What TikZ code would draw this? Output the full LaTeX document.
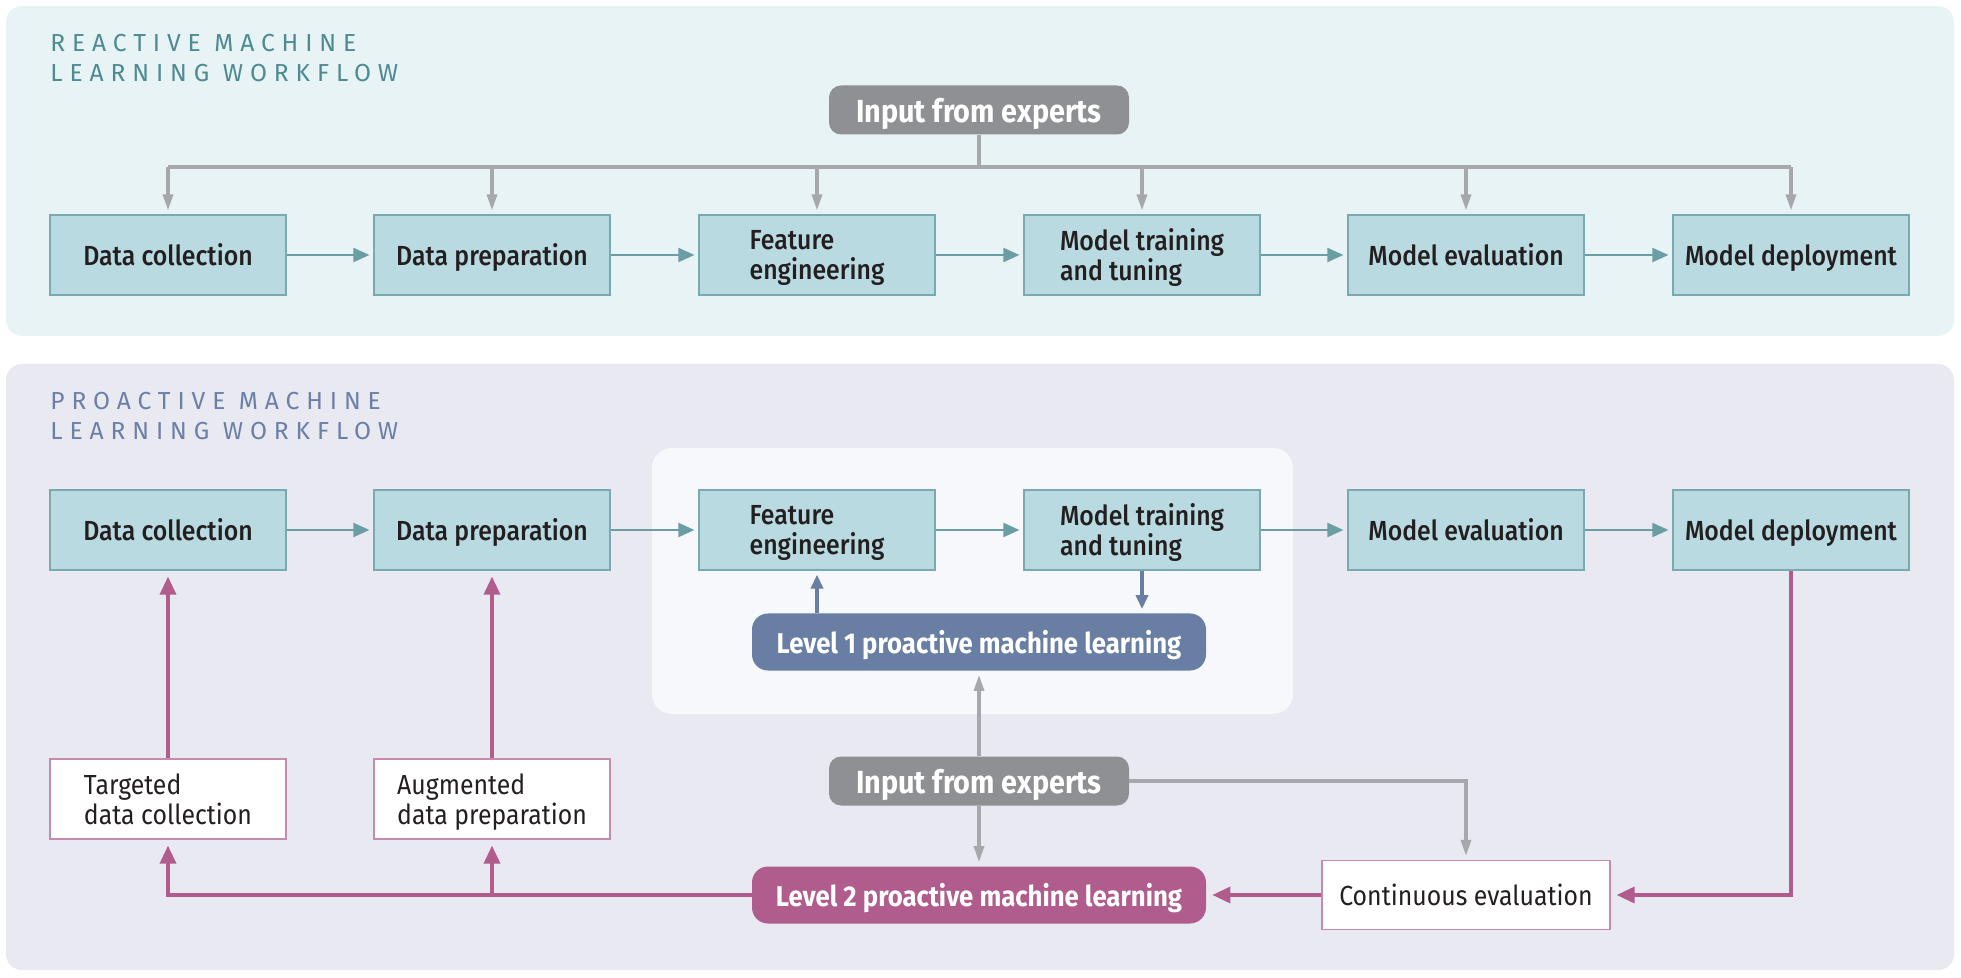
\documentclass[tikz,border=0pt]{standalone}
\usepackage{fontspec}
\setmainfont{Fira Sans}[FakeStretch=0.9]
\newfontfamily\medfont{Fira Sans Medium}[FakeStretch=0.9]
\newfontfamily\titlefont{Fira Sans}[LetterSpace=28]
\usetikzlibrary{arrows.meta}
\definecolor{reactbg}{HTML}{E7F3F4}
\definecolor{proactbg}{HTML}{E9E9F2}
\definecolor{innerbg}{HTML}{F7F8FB}
\definecolor{boxfill}{HTML}{B8DAE0}
\definecolor{boxline}{HTML}{7AA9B0}
\definecolor{tealarrow}{HTML}{6B9DA4}
\definecolor{grayline}{HTML}{A6A8AB}
\definecolor{grayfill}{HTML}{8E9093}
\definecolor{levelone}{HTML}{687EA3}
\definecolor{pinkline}{HTML}{B05C8C}
\definecolor{pinkedge}{HTML}{C58BAE}
\definecolor{reacttitle}{HTML}{4E8A92}
\definecolor{proacttitle}{HTML}{6B80A6}
\definecolor{textdark}{HTML}{231F20}

\begin{document}
\begin{tikzpicture}[x=0.5pt,y=-0.5pt]
  \tikzset{
    flowbox/.style={draw=boxline, fill=boxfill, line width=0.6pt, text=textdark,
      minimum width=118pt, minimum height=40pt, align=left, text depth=0pt,
      font=\medfont\fontsize{13.8}{15}\selectfont},
    whitebox/.style={flowbox, draw=pinkedge, fill=white,
      font=\fontsize{13.8}{15}\selectfont},
    expertbox/.style={fill=grayfill, rounded corners=6pt, text=white,
      minimum width=150pt, minimum height=24.5pt, text depth=0pt,
      font=\bfseries\fontsize{16}{18}\selectfont},
    levelbox/.style={rounded corners=8pt, text=white,
      minimum width=227pt, minimum height=28.5pt, text depth=0pt,
      font=\bfseries\fontsize{14.3}{16}\selectfont},
    paneltitle/.style={anchor=north west, align=left, inner sep=0pt,
      font=\titlefont\fontsize{12.3}{15}\selectfont},
    flowarrow/.style={draw=tealarrow, line width=1pt,
      -{Triangle[length=8pt,width=7pt]}, shorten >=2pt},
    grayarrow/.style={draw=grayline, line width=1.6pt,
      -{Triangle[length=8pt,width=5pt]}, shorten >=2pt},
    bluearrow/.style={draw=levelone, line width=1.7pt,
      -{Triangle[length=7pt,width=6pt]}, shorten >=2pt},
    pinkarrow/.style={draw=pinkline, line width=1.7pt,
      -{Triangle[length=9pt,width=8pt]}, shorten >=3pt}
  }
  \useasboundingbox (0,0) rectangle (1961,978);

  % panels
  \fill[reactbg, rounded corners=8pt] (6,6) rectangle (1954,336);
  \fill[proactbg, rounded corners=8pt] (6,364) rectangle (1954,970);
  \fill[innerbg, rounded corners=10pt] (652,448) rectangle (1293,714);
  \node[paneltitle, text=reacttitle] (t1) at (50,34) {REACTIVE MACHINE\\LEARNING WORKFLOW};
  \node[paneltitle, text=proacttitle] (t2) at (50,392) {PROACTIVE MACHINE\\LEARNING WORKFLOW};

  % reactive workflow
  \node[expertbox] (inp1) at (979,110) {Input from experts};
  \node[flowbox] (dc1) at (168,255) {Data collection};
  \node[flowbox] (dp1) at (492,255) {Data preparation};
  \node[flowbox] (fe1) at (817,255) {Feature\\engineering};
  \node[flowbox] (mt1) at (1142,255) {Model training\\and tuning};
  \node[flowbox] (me1) at (1466,255) {Model evaluation};
  \node[flowbox] (md1) at (1791,255) {Model deployment};
  \coordinate (bus) at (0,167);
  \draw[grayline, line width=1.6pt] (inp1.south) -- (inp1.south |- bus);
  \draw[grayline, line width=1.6pt] (dc1.north |- bus) -- (md1.north |- bus);
  \foreach \n in {dc1,dp1,fe1,mt1,me1,md1}
    \draw[grayarrow] (\n.north |- bus) -- (\n.north);
  \foreach \a/\b in {dc1/dp1,dp1/fe1,fe1/mt1,mt1/me1,me1/md1}
    \draw[flowarrow] (\a) -- (\b);

  % proactive workflow
  \node[flowbox] (dc2) at (168,530) {Data collection};
  \node[flowbox] (dp2) at (492,530) {Data preparation};
  \node[flowbox] (fe2) at (817,530) {Feature\\engineering};
  \node[flowbox] (mt2) at (1142,530) {Model training\\and tuning};
  \node[flowbox] (me2) at (1466,530) {Model evaluation};
  \node[flowbox] (md2) at (1791,530) {Model deployment};
  \foreach \a/\b in {dc2/dp2,dp2/fe2,fe2/mt2,mt2/me2,me2/md2}
    \draw[flowarrow] (\a) -- (\b);

  \node[levelbox, fill=levelone] (lv1) at (979,642) {Level 1 proactive machine learning};
  \node[expertbox] (inp2) at (979,781) {Input from experts};
  \node[levelbox, fill=pinkline] (lv2) at (979,895) {Level 2 proactive machine learning};
  \node[whitebox] (tdc) at (168,799) {Targeted\\data collection};
  \node[whitebox] (adp) at (492,799) {Augmented\\data preparation};
  \node[whitebox, minimum width=144pt, minimum height=34.5pt] (ce) at (1466,895) {Continuous evaluation};

  \draw[bluearrow] (lv1.north -| fe2.south) -- (fe2.south);
  \draw[bluearrow] (mt2.south) -- (mt2.south |- lv1.north);

  \draw[grayarrow] (inp2.north) -- (lv1.south);
  \draw[grayarrow] (inp2.south) -- (lv2.north);
  \draw[grayarrow] (inp2.east) -| (ce.north);

  \draw[pinkarrow] (md2.south) |- (ce.east);
  \draw[pinkarrow] (ce.west) -- (lv2.east);
  \draw[pinkarrow] (lv2.west) -| (tdc.south);
  \draw[pinkarrow] (lv2.west -| adp.south) -- (adp.south);
  \draw[pinkarrow] (tdc.north) -- (dc2.south);
  \draw[pinkarrow] (adp.north) -- (dp2.south);
\end{tikzpicture}
\end{document}
